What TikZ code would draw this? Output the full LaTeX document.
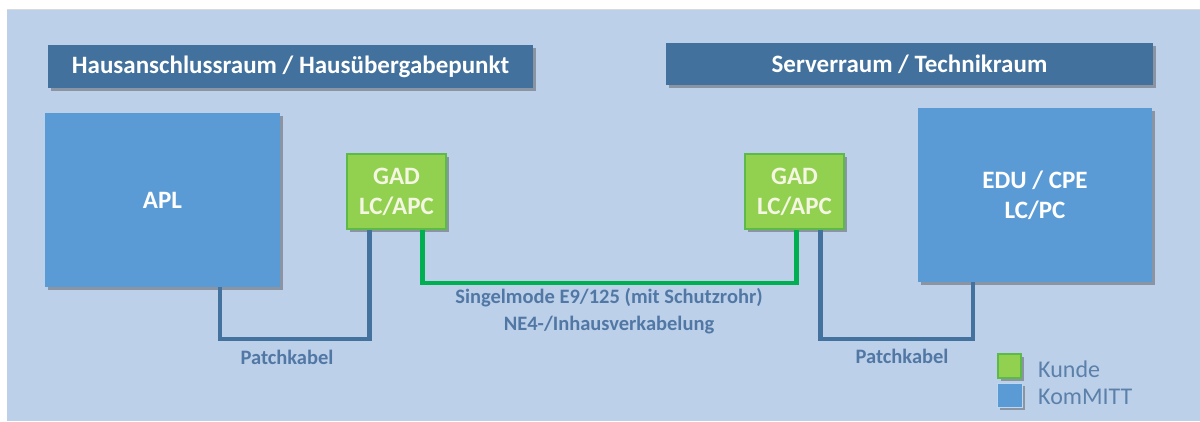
\documentclass[tikz,border=0pt]{standalone}
\usepackage{fontspec}
\setmainfont{Carlito}
\usetikzlibrary{shadows,positioning}
\definecolor{bgblue}{HTML}{BDD0E9}
\definecolor{hdrblue}{HTML}{41719C}
\definecolor{boxblue}{HTML}{5B9BD5}
\definecolor{boxgreen}{HTML}{92D050}
\definecolor{greenedge}{HTML}{5CBA48}
\definecolor{linegreen}{HTML}{00B050}
\definecolor{lineblue}{HTML}{44729E}
\definecolor{lbltext}{HTML}{5178A5}
\definecolor{legtext}{HTML}{5B80AA}
\definecolor{gadtext}{HTML}{F4F6E2}
\tikzset{
  shd/.style={drop shadow={shadow xshift=2.5pt,shadow yshift=-2.5pt,opacity=0.45,fill=black!70}},
  header/.style={fill=hdrblue,text=white,inner sep=0pt,shd,font=\fontsize{25}{30}\bfseries\selectfont},
  bigbox/.style={fill=boxblue,text=white,inner sep=0pt,shd,align=center,font=\fontsize{25}{30}\bfseries\selectfont},
  gadbox/.style={fill=boxgreen,draw=greenedge,line width=1.5pt,text=gadtext,inner sep=0pt,shd,align=center,font=\fontsize{25}{30}\bfseries\selectfont,minimum width=99pt,minimum height=75pt},
  patch/.style={draw=lineblue,line width=4.5pt},
  fiber/.style={draw=linegreen,line width=4.5pt},
  lbl/.style={text=lbltext,inner sep=0pt,align=center,font=\fontsize{20.5}{27}\bfseries\selectfont},
  legsq/.style={inner sep=0pt,minimum width=25pt,shd},
  legtxt/.style={text=legtext,inner sep=0pt,anchor=west,font=\fontsize{24}{28}\selectfont}
}
\begin{document}
\begin{tikzpicture}[x=1pt,y=-1pt]
\useasboundingbox (0,0) rectangle (1200,421);
\fill[white] (0,0) rectangle (1200,421);
\fill[bgblue] (7,9) rectangle (1200,421);
\draw[black!15,line width=1pt] (7,9.5) -- (1200,9.5);
% headers
\node[header,minimum width=485pt,minimum height=43pt] (h1) at (290.5,66.5) {Hausanschlussraum / Hausübergabepunkt};
\node[header,minimum width=487pt,minimum height=42pt] (h2) at (909.5,64) {Serverraum / Technikraum};
% boxes
\node[bigbox,minimum width=235pt,minimum height=174pt] (apl) at (162.5,200) {APL};
\node[bigbox,minimum width=234pt,minimum height=174pt] (edu) at (1035,195) {EDU / CPE\\LC/PC};
\node[gadbox] (gad1) at (396.5,191.5) {GAD\\LC/APC};
\node[gadbox] (gad2) at (794.5,191.5) {GAD\\LC/APC};
% connectors
\draw[patch] ([xshift=175pt]apl.south west) -- ++(0,52) -| ([xshift=23pt]gad1.south west);
\draw[fiber] ([xshift=76pt]gad1.south west) -- ++(0,53) -| ([xshift=52pt]gad2.south west);
\draw[patch] ([xshift=76pt]gad2.south west) -- ++(0,109) -| ([xshift=55pt]edu.south west);
% labels
\node[lbl] (pk1) at (287,357) {Patchkabel};
\node[lbl] (sm) at (609,311.5) {Singelmode E9/125 (mit Schutzrohr)\\NE4-/Inhausverkabelung};
\node[lbl] (pk2) at (902,356) {Patchkabel};
% legend
\node[legsq,fill=boxgreen,draw=greenedge,line width=1.5pt,minimum width=23pt,minimum height=24pt] (lg1) at (1009.5,366) {};
\node[legsq,fill=boxblue,draw=white!60!boxblue,line width=1pt,minimum height=24pt] (lg2) at (1009.5,395) {};
\node[legtxt] (lt1) at (1038,369) {Kunde};
\node[legtxt] (lt2) at (1038,397) {KomMITT};
\end{tikzpicture}
\end{document}
